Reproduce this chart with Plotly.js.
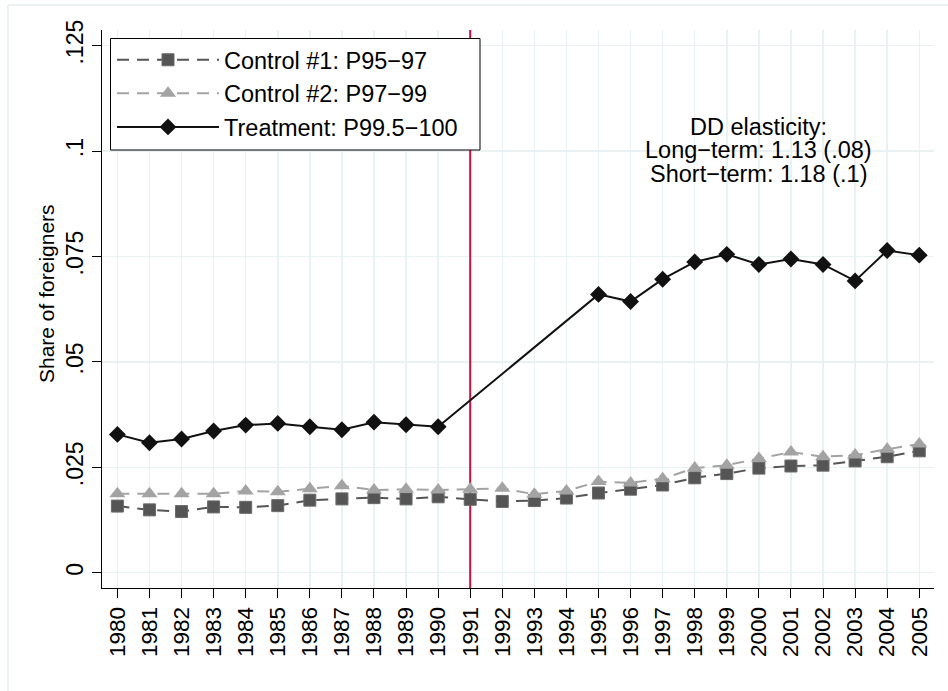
<!DOCTYPE html>
<html>
<head>
<meta charset="utf-8">
<script src="https://cdn.plot.ly/plotly-3.0.1.min.js"></script>
<style>html,body{margin:0;padding:0;background:#fff;}#chart{width:948px;height:691px;}</style>
</head>
<body>
<div id="chart"></div>
<script>
const years = [1980,1981,1982,1983,1984,1985,1986,1987,1988,1989,1990,1991,1992,1993,1994,1995,1996,1997,1998,1999,2000,2001,2002,2003,2004,2005];
const control1 = [0.0158,0.0149,0.0145,0.0156,0.0155,0.0159,0.0172,0.0175,0.0178,0.0175,0.0180,0.0174,0.0169,0.0171,0.0177,0.0189,0.0198,0.0208,0.0225,0.0235,0.0248,0.0253,0.0255,0.0265,0.0275,0.0289];
const control2 = [0.0187,0.0187,0.0187,0.0187,0.0194,0.0192,0.0199,0.0206,0.0196,0.0198,0.0196,0.0198,0.0200,0.0186,0.0194,0.0216,0.0213,0.0223,0.0248,0.0255,0.0271,0.0286,0.0275,0.0279,0.0293,0.0305];
const treatYears = [1980,1981,1982,1983,1984,1985,1986,1987,1988,1989,1990,1995,1996,1997,1998,1999,2000,2001,2002,2003,2004,2005];
const treatment = [0.0328,0.0308,0.0317,0.0336,0.0350,0.0354,0.0346,0.0339,0.0357,0.0351,0.0346,0.0660,0.0643,0.0696,0.0737,0.0755,0.0731,0.0744,0.0731,0.0692,0.0764,0.0753];
const yTickVals = [0,0.025,0.05,0.075,0.1,0.125];
const yTickText = ["0",".025",".05",".075",".1",".125"];
const seriesNames = ["Control #1: P95\u221297","Control #2: P97\u221299","Treatment: P99.5\u2212100"];
const reformYear = 1991;
const yRange = [-0.00363, 0.1287];
const noteLines = ["DD elasticity:","Long\u2212term: 1.13 (.08)","Short\u2212term: 1.18 (.1)"];

const FONT = "Liberation Sans, Arial, Helvetica, sans-serif";
const gridC = "#e9f1f3";

const traces = [
  {x: [reformYear, reformYear], y: yRange, type: "scatter", mode: "lines", showlegend: false,
   hoverinfo: "skip", line: {color: "#c8143c", width: 2}},
  {x: years, y: control1, name: seriesNames[0], type: "scatter", mode: "lines+markers",
   line: {color: "#555555", width: 2, dash: "12px,8px"},
   marker: {symbol: "square", size: 12, color: "#555555", line: {color: "#6a6a6a", width: 1}}},
  {x: years, y: control2, name: seriesNames[1], type: "scatter", mode: "lines+markers",
   line: {color: "#a3a3a3", width: 2, dash: "12px,8px"},
   marker: {symbol: "triangle-up", size: 14, color: "#a3a3a3", line: {color: "#a3a3a3", width: 0}}},
  {x: treatYears, y: treatment, name: seriesNames[2], type: "scatter", mode: "lines+markers",
   line: {color: "#111111", width: 2},
   marker: {symbol: "diamond", size: 13, color: "#111111"}}
];

const annotations = [
  {xref: "x", yref: "y", x: 2000, y: 0.1057, text: noteLines[0], showarrow: false, xanchor: "center", yanchor: "middle", font: {family: FONT, size: 23.5, color: "#000"}},
  {xref: "x", yref: "y", x: 2000, y: 0.1002, text: noteLines[1], showarrow: false, xanchor: "center", yanchor: "middle", font: {family: FONT, size: 23.5, color: "#000"}},
  {xref: "x", yref: "y", x: 2000, y: 0.0945, text: noteLines[2], showarrow: false, xanchor: "center", yanchor: "middle", font: {family: FONT, size: 23.5, color: "#000"}},
  {xref: "paper", yref: "paper", x: (46-102)/832, y: (588-294)/558, text: "Share of foreigners", textangle: -90, showarrow: false, xanchor: "center", yanchor: "middle", font: {family: FONT, size: 21, color: "#000"}}
];

const px = v => (v-102)/832;
const py = v => (588-v)/558;
const shapes = [
  {type: "rect", xref: "paper", yref: "paper", x0: px(110.5), x1: px(480), y0: py(38.5), y1: py(150), line: {color: "#000", width: 1}, fillcolor: "#ffffff", layer: "above"},
  {type: "line", xref: "paper", yref: "paper", x0: px(8), x1: px(8), y0: py(5), y1: py(700), line: {color: "#e6eef0", width: 1.5}},
  {type: "line", xref: "paper", yref: "paper", x0: px(8), x1: px(960), y0: py(5), y1: py(5), line: {color: "#e6eef0", width: 1.5}}
];

const layout = {
  width: 948, height: 691,
  margin: {l: 102, r: 14, t: 30, b: 103},
  paper_bgcolor: "#ffffff", plot_bgcolor: "#ffffff",
  font: {family: FONT, color: "#000"},
  showlegend: true,
  legend: {x: px(112), y: py(38), xanchor: "left", yanchor: "top",
           borderwidth: 0, bgcolor: "rgba(0,0,0,0)",
           font: {family: FONT, size: 23.5, color: "#000"}, itemwidth: 102, tracegroupgap: 0},
  xaxis: {range: [1979.52, 2005.46], tickmode: "array", tickvals: years, ticktext: years.map(String),
          tickangle: -90, ticks: "outside", ticklen: 9, tickcolor: "#000", tickwidth: 1,
          showline: true, linecolor: "#000", linewidth: 1, mirror: false,
          showgrid: true, gridcolor: gridC, gridwidth: 1.5, zeroline: false,
          tickfont: {family: FONT, size: 22.5, color: "#000"}, fixedrange: true},
  yaxis: {range: yRange, tickmode: "array", tickvals: yTickVals, ticktext: yTickText,
          tickangle: -90, ticks: "outside", ticklen: 9, tickcolor: "#000", tickwidth: 1,
          showline: true, linecolor: "#000", linewidth: 1,
          showgrid: true, gridcolor: gridC, gridwidth: 1.5, zeroline: false,
          tickfont: {family: FONT, size: 23, color: "#000"}, fixedrange: true},
  annotations: annotations,
  shapes: shapes
};

Plotly.newPlot("chart", traces, layout, {displayModeBar: false, staticPlot: true});
</script>
</body>
</html>
